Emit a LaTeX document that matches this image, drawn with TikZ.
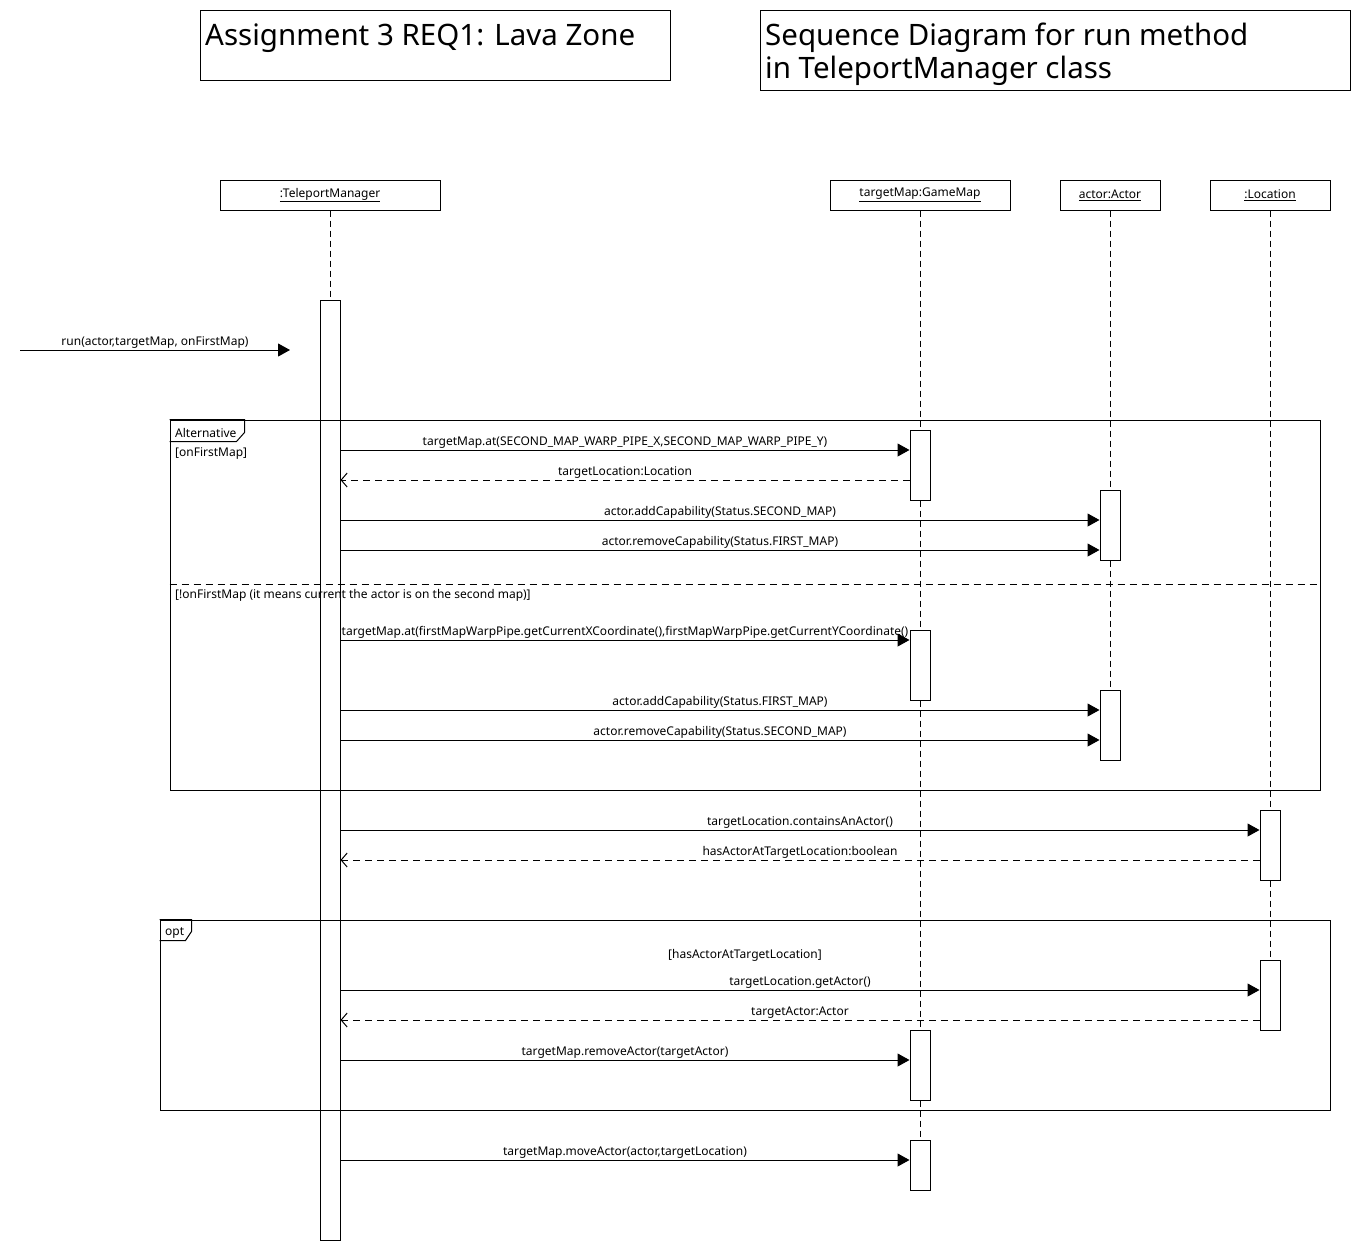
\documentclass[tikz,border=0pt]{standalone}
\usepackage{fontspec}
\setmainfont{Noto Sans}
\usetikzlibrary{arrows.meta}
\begin{document}
\begin{tikzpicture}[x=1pt,y=-1pt,
  small/.style={font=\fontsize{12}{14}\selectfont},
  titlebox/.style={draw, line width=1pt, inner sep=0pt},
  titletext/.style={font=\fontsize{29.5}{33}\selectfont, inner sep=0pt, anchor=base west, align=left},
  head/.style={draw, line width=1pt, minimum height=30pt, inner sep=0pt, small},
  bar/.style={draw, fill=white, line width=1pt, minimum width=20pt, inner sep=0pt},
  life/.style={dash pattern=on 6pt off 4pt, line width=1pt},
  call/.style={line width=1pt, -{Triangle[length=12pt,width=13pt]}},
  ret/.style={line width=1pt, dash pattern=on 7pt off 5pt, -{Straight Barb[length=6pt,width=14pt]}},
  lbl/.style={small, above=1pt, inner sep=0pt},
  frame/.style={draw, line width=1pt, inner sep=0pt},
  guard/.style={small, anchor=west, inner sep=0pt},
]
\useasboundingbox (0,0) rectangle (1360,1250);

% titles
\node[titlebox, minimum width=470pt, minimum height=70pt] (t1) at (435,45) {};
\node[titletext] (t1txt) at (205,45) {Assignment 3 REQ1: Lava Zone};
\node[titlebox, minimum width=590pt, minimum height=80pt] (t2) at (1055,50) {};
\node[titletext] (t2txt) at (765,78) {Sequence Diagram for run method\\in TeleportManager class};

% lifeline heads
\node[head, minimum width=220pt] (tm) at (330,195) {\underline{:TeleportManager}};
\node[head, minimum width=180pt] (gm) at (920,195) {\underline{targetMap:GameMap}};
\node[head, minimum width=100pt] (ac) at (1110,195) {\underline{actor:Actor}};
\node[head, minimum width=120pt] (loc) at (1270,195) {\underline{:Location}};

% activation bars (positions)
\coordinate (tmbarc) at (330,770);
\coordinate (gmb1c) at (920,465);
\coordinate (acb1c) at (1110,525);
\coordinate (gmb2c) at (920,665);
\coordinate (acb2c) at (1110,725);
\coordinate (lcb1c) at (1270,845);
\coordinate (lcb2c) at (1270,995);
\coordinate (gmb3c) at (920,1065);
\coordinate (gmb4c) at (920,1165);

% lifelines
\draw[life] (tm.south) -- (330,300);
\draw[life] (gm.south) -- (920,1190);
\draw[life] (ac.south) -- (1110,760);
\draw[life] (loc.south) -- (1270,1030);

% bars
\node[bar, minimum height=940pt] (tmbar) at (tmbarc) {};
\node[bar, minimum height=70pt] (gmb1) at (gmb1c) {};
\node[bar, minimum height=70pt] (acb1) at (acb1c) {};
\node[bar, minimum height=70pt] (gmb2) at (gmb2c) {};
\node[bar, minimum height=70pt] (acb2) at (acb2c) {};
\node[bar, minimum height=70pt] (lcb1) at (lcb1c) {};
\node[bar, minimum height=70pt] (lcb2) at (lcb2c) {};
\node[bar, minimum height=70pt] (gmb3) at (gmb3c) {};
\node[bar, minimum height=50pt] (gmb4) at (gmb4c) {};

% frames
\node[frame, minimum width=1150pt, minimum height=370pt] (alt) at (745,605) {};
\draw[line width=1pt] (alt.north west) -- ++(75,0) -- ++(0,13) -- ++(-8,9) -- ++(-67,0);
\node[guard] (altlbl) at (175,433) {Alternative};
\node[guard] (g1) at (175,454) {[onFirstMap]};
\draw[line width=1pt, dash pattern=on 7pt off 5pt] (alt.west |- 0,584) -- (alt.east |- 0,584);
\node[guard] (g2) at (175,595) {[!onFirstMap (it means current the actor is on the second map)]};

\node[frame, minimum width=1170pt, minimum height=190pt] (opt) at (745,1015) {};
\draw[line width=1pt] (opt.north west) -- ++(32,0) -- ++(0,12) -- ++(-6,9) -- ++(-26,0);
\node[guard] (optlbl) at (165,933) {opt};
\node[small, inner sep=0pt] (g3) at (745,955) {[hasActorAtTargetLocation]};

% incoming message
\coordinate (start) at (20,350);
\coordinate (runend) at (290,350);
\draw[call] (start) -- (runend) node[lbl, midway] {run(actor,targetMap, onFirstMap)};

% messages
\draw[call] (tmbar.east |- 0,450) -- (gmb1.west |- 0,450) node[lbl, midway] {targetMap.at(SECOND\_MAP\_WARP\_PIPE\_X,SECOND\_MAP\_WARP\_PIPE\_Y)};
\draw[ret] (gmb1.west |- 0,480) -- (tmbar.east |- 0,480) node[lbl, midway] {targetLocation:Location};
\draw[call] (tmbar.east |- 0,520) -- (acb1.west |- 0,520) node[lbl, midway] {actor.addCapability(Status.SECOND\_MAP)};
\draw[call] (tmbar.east |- 0,550) -- (acb1.west |- 0,550) node[lbl, midway] {actor.removeCapability(Status.FIRST\_MAP)};

\draw[call] (tmbar.east |- 0,640) -- (gmb2.west |- 0,640) node[lbl, midway] {targetMap.at(firstMapWarpPipe.getCurrentXCoordinate(),firstMapWarpPipe.getCurrentYCoordinate()};
\draw[call] (tmbar.east |- 0,710) -- (acb2.west |- 0,710) node[lbl, midway] {actor.addCapability(Status.FIRST\_MAP)};
\draw[call] (tmbar.east |- 0,740) -- (acb2.west |- 0,740) node[lbl, midway] {actor.removeCapability(Status.SECOND\_MAP)};

\draw[call] (tmbar.east |- 0,830) -- (lcb1.west |- 0,830) node[lbl, midway] {targetLocation.containsAnActor()};
\draw[ret] (lcb1.west |- 0,860) -- (tmbar.east |- 0,860) node[lbl, midway] {hasActorAtTargetLocation:boolean};

\draw[call] (tmbar.east |- 0,990) -- (lcb2.west |- 0,990) node[lbl, midway] {targetLocation.getActor()};
\draw[ret] (lcb2.west |- 0,1020) -- (tmbar.east |- 0,1020) node[lbl, midway] {targetActor:Actor};
\draw[call] (tmbar.east |- 0,1060) -- (gmb3.west |- 0,1060) node[lbl, midway] {targetMap.removeActor(targetActor)};

\draw[call] (tmbar.east |- 0,1160) -- (gmb4.west |- 0,1160) node[lbl, midway] {targetMap.moveActor(actor,targetLocation)};
\end{tikzpicture}
\end{document}
